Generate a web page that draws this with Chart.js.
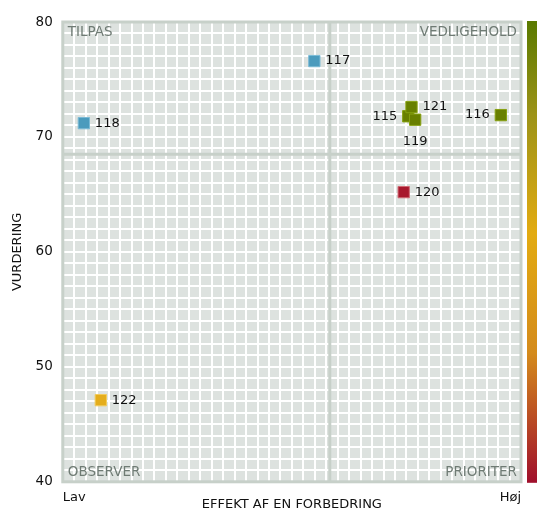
<!DOCTYPE html>
<html>
<head>
<meta charset="utf-8">
<script src="https://cdn.jsdelivr.net/npm/chart.js@4"></script>
<style>
  html, body { margin: 0; padding: 0; background: #fff; }
  #wrap { width: 537px; height: 512px; }
</style>
</head>
<body>
<div id="wrap"><canvas id="matrixChart"></canvas></div>
<script>
// Data
var ids = ["115", "116", "117", "118", "119", "120", "121", "122"];
var effekt = [75.4, 95.6, 54.9, 4.6, 76.9, 74.4, 76.1, 8.3];
var vurdering = [71.8, 71.9, 76.6, 71.2, 71.5, 65.2, 72.6, 47.1];
var groups = ["green", "green", "blue", "blue", "green", "red", "green", "yellow"];
var yTicks = [40, 50, 60, 70, 80];
var xTickNames = ["Lav", "Høj"];
var quadrantNames = ["TILPAS", "VEDLIGEHOLD", "OBSERVER", "PRIORITER"];

var fills = { green: "#687f00", blue: "#4b9bbd", red: "#a8182d", yellow: "#e4ad1c" };
var edges = { green: "#86a010", blue: "#7cbbd6", red: "#d06a74", yellow: "#f2cc5c" };

// label side per point (r = right, l = left, b = below)
var labelSide = ["l", "l", "r", "r", "b", "r", "r", "r"];

function mean(a) {
  var s = 0;
  a.forEach(function(v) { s += v; });
  return s / a.length;
}

var FONT = "'DejaVu Sans', Verdana, sans-serif";
var lineGrey = "#c7d0c9";

var matrixPlugin = {
  id: "matrix",
  beforeDraw: function(chart) {
    var a = chart.chartArea, ctx = chart.ctx;
    ctx.save();
    ctx.fillStyle = "#dde2df";
    ctx.fillRect(a.left, a.top, a.right - a.left, a.bottom - a.top);
    ctx.restore();
  },
  beforeDatasetsDraw: function(chart) {
    var a = chart.chartArea, ctx = chart.ctx;
    var xs = chart.scales.x, ys = chart.scales.y;
    var mx = xs.getPixelForValue(mean(effekt));
    var my = ys.getPixelForValue(mean(vurdering));
    ctx.save();
    ctx.strokeStyle = lineGrey;
    ctx.lineWidth = 3;
    ctx.beginPath();
    ctx.moveTo(mx, a.top); ctx.lineTo(mx, a.bottom);
    ctx.moveTo(a.left, my); ctx.lineTo(a.right, my);
    ctx.stroke();
    ctx.strokeRect(a.left, a.top, a.right - a.left, a.bottom - a.top);

    // quadrant names
    ctx.fillStyle = "#6f7b74";
    ctx.font = "13.5px " + FONT;
    ctx.textBaseline = "top";
    ctx.textAlign = "left";
    ctx.fillText(quadrantNames[0], a.left + 5, a.top + 4);
    ctx.textAlign = "right";
    ctx.fillText(quadrantNames[1], a.right - 4, a.top + 4);
    ctx.textBaseline = "bottom";
    ctx.textAlign = "left";
    ctx.fillText(quadrantNames[2], a.left + 5, a.bottom - 3);
    ctx.textAlign = "right";
    ctx.fillText(quadrantNames[3], a.right - 4, a.bottom - 3);
    ctx.restore();
  },
  afterDatasetsDraw: function(chart) {
    var a = chart.chartArea, ctx = chart.ctx;
    var meta = chart.getDatasetMeta(0);
    ctx.save();
    ctx.fillStyle = "#111";
    ctx.font = "13px " + FONT;
    meta.data.forEach(function(pt, i) {
      var side = labelSide[i];
      if (side === "l") {
        ctx.textAlign = "right"; ctx.textBaseline = "middle";
        ctx.fillText(ids[i], pt.x - 11, pt.y);
      } else if (side === "b") {
        ctx.textAlign = "center"; ctx.textBaseline = "middle";
        ctx.fillText(ids[i], pt.x, pt.y + 22);
      } else {
        ctx.textAlign = "left"; ctx.textBaseline = "middle";
        ctx.fillText(ids[i], pt.x + 11, pt.y);
      }
    });

    // colour bar on the right
    var g = ctx.createLinearGradient(0, a.top, 0, a.bottom);
    g.addColorStop(0, "#5a7a00");
    g.addColorStop(0.2, "#9c9318");
    g.addColorStop(0.46, "#e2ab12");
    g.addColorStop(0.72, "#d48b1c");
    g.addColorStop(1, "#a0102c");
    ctx.fillStyle = g;
    ctx.fillRect(a.right + 6, a.top - 1, 10, a.bottom - a.top + 2);
    ctx.restore();
  }
};

var points = effekt.map(function(x, i) { return { x: x, y: vurdering[i] }; });

var ctx = document.getElementById("matrixChart").getContext("2d");
var matrixChart = new Chart(ctx, {
  type: "scatter",
  data: {
    datasets: [{
      data: points,
      pointStyle: "rect",
      pointRadius: 8,
      borderWidth: 1,
      backgroundColor: groups.map(function(g) { return fills[g]; }),
      borderColor: groups.map(function(g) { return edges[g]; })
    }]
  },
  options: {
    responsive: true,
    maintainAspectRatio: false,
    animation: false,
    layout: { padding: { top: 22, right: 16, left: 10, bottom: 0 } },
    plugins: {
      legend: { display: false },
      tooltip: { enabled: false }
    },
    scales: {
      x: {
        type: "linear",
        min: 0,
        max: 100,
        border: { display: false },
        grid: { color: "#ffffff", lineWidth: 2, drawTicks: false },
        ticks: {
          stepSize: 2.5,
          autoSkip: false,
          maxRotation: 0,
          align: "inner",
          padding: 8,
          color: "#111",
          font: { family: FONT, size: 13 },
          callback: function(v) {
            if (v === 0) return xTickNames[0];
            if (v === 100) return xTickNames[1];
            return "";
          }
        },
        title: {
          display: true,
          text: "EFFEKT AF EN FORBEDRING",
          color: "#111",
          font: { family: FONT, size: 13 },
          padding: { top: -17, bottom: 0 }
        }
      },
      y: {
        type: "linear",
        min: 40,
        max: 80,
        border: { display: false },
        grid: { color: "#ffffff", lineWidth: 2, drawTicks: false },
        ticks: {
          stepSize: 1,
          autoSkip: false,
          padding: 10,
          color: "#111",
          font: { family: FONT, size: 13.5 },
          callback: function(v) {
            return yTicks.indexOf(v) >= 0 ? String(v) : "";
          }
        },
        title: {
          display: true,
          text: "VURDERING",
          color: "#111",
          font: { family: FONT, size: 13 },
          padding: { top: 0, bottom: 0 }
        }
      }
    }
  },
  plugins: [matrixPlugin]
});
</script>
</body>
</html>
